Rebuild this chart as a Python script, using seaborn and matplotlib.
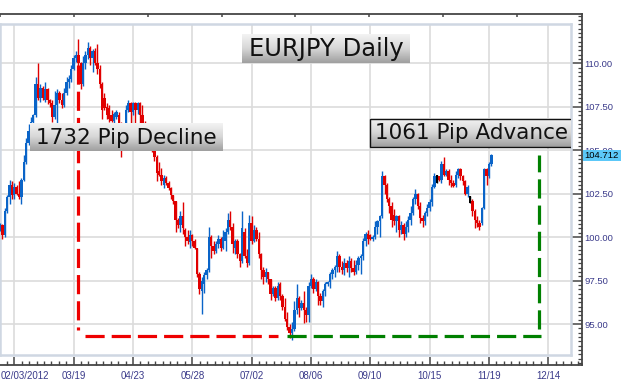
import numpy as np
import pandas as pd
import matplotlib
matplotlib.use("Agg")
import matplotlib.pyplot as plt
import seaborn as sns
from matplotlib.patches import Rectangle
from matplotlib.colors import LinearSegmentedColormap
from matplotlib.ticker import FixedLocator, MultipleLocator
from matplotlib.transforms import ScaledTranslation, blended_transform_factory

# ---------------- data (EURJPY daily candles) ----------------
opens = [
    100.4, 100.7, 100.1, 101.5, 102.3, 103.0, 102.4, 102.9, 102.5, 102.3,
    103.3, 104.3, 105.4, 106.1, 106.6, 107.0, 108.8, 108.0, 108.6, 107.9,
    108.5, 107.9, 107.7, 106.9, 107.6, 108.3, 107.9, 107.6, 108.3, 108.9,
    109.1, 109.7, 110.3, 110.5, 110.0, 108.8, 110.0, 110.5, 110.9, 110.3,
    110.7, 110.0, 109.7, 108.8, 108.0, 107.5, 107.4, 107.0, 106.7, 106.9,
    107.0, 106.0, 105.2, 106.3, 107.3, 107.7, 107.2, 107.7, 107.3, 107.7,
    107.0, 106.5, 106.0, 105.6, 105.9, 105.0, 104.6, 103.8, 103.6, 103.0,
    103.4, 103.1, 102.8, 102.4, 102.1, 101.0, 100.7, 101.2, 100.4, 100.0,
    99.7, 100.1, 99.8, 99.35, 97.9, 96.9, 97.3, 97.8, 98.1, 100.0,
    99.5, 99.2, 99.6, 99.9, 99.4, 99.8, 100.3, 101.0, 100.6, 99.4,
    99.8, 99.0, 98.6, 100.3, 98.9, 98.5, 100.8, 99.8, 100.4, 99.9,
    99.0, 98.1, 97.7, 98.0, 97.6, 96.7, 97.1, 96.5, 97.3, 96.6,
    96.0, 95.3, 94.8, 94.5, 94.7, 95.8, 96.5, 95.9, 96.2, 95.8,
    95.5, 97.2, 97.6, 97.0, 97.4, 96.6, 96.3, 96.9, 97.3, 97.4,
    97.9, 98.1, 98.3, 98.9, 98.3, 98.1, 98.5, 98.2, 98.6, 98.2,
    98.0, 98.4, 98.8, 98.9, 99.8, 100.2, 100.1, 99.9, 100.0, 100.6,
    100.9, 101.2, 103.5, 103.0, 102.2, 101.8, 101.3, 100.9, 101.2, 100.4,
    100.7, 100.2, 100.6, 101.0, 101.4, 102.2, 102.5, 101.8, 101.1, 100.9,
    101.4, 101.7, 102.0, 102.9, 103.5, 103.5, 103.3, 104.2, 103.6, 103.8,
    103.3, 103.1, 103.0, 103.6, 103.9, 103.5, 103.2, 102.5, 102.1, 102.1,
    101.5, 101.0, 100.8, 100.8, 101.7, 103.9, 103.5, 104.2]
highs = [
    100.8, 100.75, 101.7, 102.4, 103.3, 103.2, 103.1, 103.0, 103.2, 103.4,
    104.7, 105.7, 106.5, 106.9, 107.1, 109.2, 110.0, 108.8, 108.7, 108.9,
    108.6, 107.95, 107.9, 108.4, 108.5, 108.4, 108.3, 108.6, 109.2, 109.3,
    109.9, 110.5, 110.7, 111.4, 110.1, 110.4, 110.7, 111.2, 111.0, 110.8,
    110.9, 111.1, 109.9, 108.9, 108.3, 107.7, 107.6, 107.3, 107.2, 107.3,
    107.2, 106.6, 106.5, 107.6, 107.9, 107.8, 107.8, 107.75, 107.8, 107.75,
    107.6, 106.7, 106.2, 106.1, 106.0, 105.0, 104.7, 104.3, 104.0, 103.6,
    103.5, 103.2, 102.9, 102.45, 102.1, 101.1, 101.5, 102.0, 100.5, 100.4,
    100.4, 100.2, 99.9, 99.4, 98.0, 97.7, 98.0, 98.2, 100.6, 100.1,
    99.8, 99.8, 100.1, 100.0, 100.4, 100.5, 101.4, 101.5, 100.8, 99.9,
    99.9, 99.1, 101.5, 100.5, 99.3, 101.3, 101.2, 100.7, 100.6, 100.3,
    99.1, 98.3, 98.2, 98.0, 97.6, 97.2, 97.2, 97.4, 97.4, 96.7,
    96.5, 95.7, 95.0, 95.1, 96.3, 97.3, 96.6, 96.4, 96.9, 96.0,
    97.4, 97.85, 97.7, 97.6, 97.5, 96.8, 97.0, 97.4, 97.5, 98.0,
    98.2, 98.4, 99.2, 99.0, 98.6, 98.8, 98.7, 98.9, 98.8, 98.7,
    98.7, 98.9, 99.0, 99.95, 100.3, 100.4, 100.2, 100.1, 100.9, 101.0,
    101.3, 103.8, 103.6, 103.1, 102.3, 102.0, 101.6, 101.3, 101.3, 100.9,
    100.8, 100.9, 101.2, 101.8, 102.3, 102.75, 102.55, 102.0, 101.3, 101.5,
    101.9, 102.2, 103.05, 103.7, 103.6, 103.5, 104.4, 104.6, 103.9, 103.9,
    103.6, 103.3, 103.8, 104.0, 104.0, 103.6, 103.3, 103.0, 102.35, 102.2,
    101.6, 101.2, 101.0, 101.75, 104.0, 104.0, 104.3, 104.8]
lows = [
    100.35, 99.9, 100.0, 101.4, 101.9, 102.2, 102.2, 102.4, 102.2, 101.9,
    103.2, 104.2, 105.3, 105.9, 106.5, 106.9, 107.9, 107.8, 107.9, 107.8,
    107.65, 107.5, 106.6, 106.8, 106.5, 107.7, 107.4, 107.5, 108.2, 108.6,
    108.9, 109.6, 110.1, 109.8, 108.5, 108.7, 109.7, 110.25, 109.9, 109.5,
    109.9, 109.4, 108.6, 106.8, 107.3, 106.8, 106.6, 106.6, 106.5, 106.8,
    105.6, 104.6, 105.0, 106.2, 107.2, 106.4, 107.0, 106.5, 107.1, 106.4,
    106.2, 105.8, 105.3, 105.4, 104.9, 104.4, 103.2, 103.5, 103.0, 102.8,
    103.0, 102.7, 102.2, 101.9, 100.3, 100.5, 100.3, 100.2, 99.5, 99.6,
    99.4, 99.5, 99.3, 97.7, 96.7, 95.6, 96.8, 97.6, 98.0, 98.8,
    99.0, 99.1, 99.4, 99.2, 99.3, 99.2, 100.2, 100.4, 99.1, 99.0,
    98.8, 98.3, 98.5, 98.8, 98.3, 98.4, 99.6, 99.7, 99.8, 98.8,
    97.6, 97.3, 97.4, 97.3, 96.4, 96.6, 96.3, 96.4, 96.4, 95.8,
    95.2, 94.65, 94.2, 94.1, 94.6, 95.6, 95.4, 95.8, 95.05, 95.1,
    95.1, 97.05, 96.8, 96.9, 96.1, 96.1, 96.0, 96.6, 97.2, 97.1,
    97.6, 97.7, 98.0, 98.0, 97.9, 97.8, 98.0, 97.7, 98.0, 97.8,
    97.9, 98.1, 97.9, 98.7, 99.5, 99.6, 99.85, 99.8, 99.9, 100.2,
    100.0, 101.1, 102.5, 102.0, 101.4, 100.6, 100.7, 100.3, 100.0, 100.2,
    99.85, 100.0, 100.3, 100.7, 101.3, 101.9, 101.6, 100.8, 100.6, 100.7,
    101.2, 101.5, 101.8, 102.8, 103.1, 103.2, 103.1, 103.5, 103.5, 103.0,
    102.9, 102.9, 102.9, 103.4, 103.3, 103.0, 102.4, 102.3, 101.97, 101.2,
    100.5, 100.6, 100.4, 100.7, 101.6, 103.0, 103.4, 104.1]
closes = [
    100.7, 100.1, 101.5, 102.3, 103.0, 102.4, 102.9, 102.5, 102.3, 103.3,
    104.3, 105.4, 106.1, 106.6, 107.0, 108.8, 108.0, 108.6, 108.0, 108.5,
    107.9, 107.7, 106.9, 107.6, 108.3, 107.9, 107.6, 108.3, 108.9, 109.1,
    109.7, 110.3, 110.5, 110.0, 108.8, 110.0, 110.5, 110.9, 110.3, 110.7,
    110.0, 109.7, 108.8, 107.3, 107.4, 107.0, 106.8, 106.7, 107.1, 107.2,
    106.0, 105.2, 106.3, 107.3, 107.7, 107.2, 107.7, 107.3, 107.7, 107.0,
    106.5, 106.0, 105.6, 105.9, 105.0, 104.6, 103.7, 103.6, 103.2, 103.4,
    103.1, 102.8, 102.4, 102.1, 101.0, 100.7, 101.2, 100.5, 100.0, 99.8,
    100.1, 99.8, 99.4, 97.9, 97.0, 97.5, 97.8, 98.1, 100.0, 99.5,
    99.2, 99.6, 99.9, 99.4, 100.0, 100.3, 101.0, 100.6, 99.6, 99.8,
    99.0, 98.6, 100.5, 98.9, 98.5, 100.8, 99.8, 100.4, 99.9, 99.0,
    98.1, 97.7, 98.0, 97.6, 96.7, 97.1, 96.5, 97.2, 96.6, 96.0,
    95.3, 94.8, 94.5, 94.7, 95.8, 96.5, 95.9, 96.2, 95.8, 95.5,
    97.2, 97.6, 97.0, 97.4, 96.6, 96.3, 96.9, 97.3, 97.4, 97.9,
    98.1, 98.3, 98.9, 98.3, 98.1, 98.5, 98.2, 98.6, 98.2, 98.0,
    98.4, 98.8, 98.9, 99.8, 100.2, 99.9, 99.9, 100.0, 100.6, 100.9,
    101.2, 103.5, 103.0, 102.2, 101.8, 101.0, 100.9, 101.2, 100.4, 100.7,
    100.2, 100.6, 101.0, 101.4, 102.2, 102.5, 101.8, 101.1, 100.9, 101.4,
    101.7, 102.0, 102.9, 103.5, 103.5, 103.3, 104.2, 103.6, 103.8, 103.3,
    103.1, 102.95, 103.6, 103.9, 103.5, 103.2, 102.5, 102.9, 102.1, 101.5,
    101.0, 100.8, 100.6, 101.7, 103.9, 103.5, 104.2, 104.712]

date_labels = ["02/03/2012", "03/19", "04/23", "05/28", "07/02",
               "08/06", "09/10", "10/15", "11/19", "12/14"]
date_tick_idx = [6, 31, 56, 81, 106, 131, 156, 181, 206, 231]
price_ticks = [95.0, 97.5, 100.0, 102.5, 105.0, 107.5, 110.0]
last_price = 104.712
title_text = "EURJPY Daily"
decline_text = "1732 Pip Decline"
advance_text = "1061 Pip Advance"
decline_top = 109.9        # start of red dashed leg
base_level = 94.31         # level of horizontal legs
advance_x = 227.1          # candle-index position of green vertical leg

# ---------------- layout helpers ----------------
W, H = 625, 384
PX_PER_BAR = 2.3733
X0 = -0.025
PX_PER_UNIT = 17.38
REF_PRICE, REF_PY = 110.0, 63.3


def bx(px):
    return X0 + px / PX_PER_BAR


def by(py):
    return REF_PRICE - (py - REF_PY) / PX_PER_UNIT


sns.set_style("white")
plt.rcParams["font.family"] = ["Liberation Sans", "DejaVu Sans"]

fig = plt.figure(figsize=(W / 100, H / 100), dpi=100)
fig.patch.set_facecolor("white")

# outer frame (axis lines, ticks, labels): px 0..582, py 14..365
frame = fig.add_axes([0, 1 - 365 / H, 582 / W, (365 - 14) / H])
# inner panel (candles): px 0..571, py 24..355
panel = fig.add_axes([0, 1 - 355 / H, 571 / W, (355 - 24) / H])
top_tw = frame.twiny()

frame.set_xlim(bx(0), bx(582))
frame.set_ylim(by(365), by(14))
panel.set_xlim(bx(0), bx(571))
panel.set_ylim(by(355), by(24))

axis_col = "#454545"
lab_col = "#3a3a8a"
for s in ["top", "right", "bottom"]:
    frame.spines[s].set_color(axis_col)
    frame.spines[s].set_linewidth(1.3)
frame.spines["left"].set_visible(False)
frame.set_facecolor("white")

# bottom date axis
frame.xaxis.set_ticks_position("bottom")
frame.set_xticks(date_tick_idx, labels=date_labels)
minor_x = []
for a, b in zip(date_tick_idx[:-1], date_tick_idx[1:]):
    minor_x += list(np.linspace(a, b, 9)[1:-1])
minor_x += list(np.linspace(date_tick_idx[0] - 25, date_tick_idx[0], 9)[1:-1])
minor_x += list(np.linspace(date_tick_idx[-1], date_tick_idx[-1] + 25, 9)[1:-1])
frame.xaxis.set_minor_locator(FixedLocator(minor_x))
frame.tick_params(axis="x", which="major", direction="in", length=6, width=1.1,
                  color=axis_col, labelsize=7, labelcolor=lab_col, pad=4)
frame.tick_params(axis="x", which="minor", direction="in", length=3, width=1.0,
                  color=axis_col)
first = frame.get_xticklabels()[0]
first.set_horizontalalignment("left")
first.set_transform(first.get_transform() +
                    ScaledTranslation(-13.8 / 100, 0, fig.dpi_scale_trans))

# right price axis
frame.yaxis.tick_right()
frame.set_yticks(price_ticks, labels=[f"{v:.2f}" for v in price_ticks])
frame.yaxis.set_minor_locator(MultipleLocator(0.25))
frame.tick_params(axis="y", which="major", direction="in", length=8.5, width=1.1,
                  color=axis_col, labelsize=6.8, labelcolor=lab_col, pad=2)
frame.tick_params(axis="y", which="minor", direction="in", length=3, width=0.9,
                  color=axis_col)

# decorative top ticks
top_tw.set_xlim(0, 582)
top_tw.set_xticks([0, 74, 148, 222, 295, 369, 443, 517])
top_tw.tick_params(axis="x", direction="in", length=2.5, width=1.1, color=axis_col,
                   labeltop=False, top=True, bottom=False, labelbottom=False)
for s in top_tw.spines.values():
    s.set_visible(False)

# panel styling / grid
panel.set_facecolor("white")
for s in panel.spines.values():
    s.set_color("#cfd7e2")
    s.set_linewidth(1.8)
panel.set_xticks(date_tick_idx)
panel.set_yticks(price_ticks)
panel.tick_params(length=0, labelbottom=False, labelleft=False)
panel.grid(True, color="#dcdcdc", linewidth=1.2)
panel.set_axisbelow(True)

# ---------------- candles ----------------
df = pd.DataFrame({"o": opens, "h": highs, "l": lows, "c": closes})
df["i"] = np.arange(len(df))
up_col, dn_col = "#0a64c8", "#e00000"
df["col"] = np.where(df.c > df.o, up_col, np.where(df.c < df.o, dn_col, "#000000"))
flat = df.c == df.o
df["bot"] = np.where(flat, df.l, np.minimum(df.o, df.c))
df["hgt"] = np.where(flat, df.h - df.l, (df.c - df.o).abs())
panel.vlines(df.i, df.l, df.h, colors=df.col, linewidth=1.0, zorder=3)
panel.bar(df.i, df.hgt, bottom=df.bot, width=1.0, color=df.col, linewidth=0, zorder=3)

# ---------------- dashed legs ----------------
dash = (0, (6, 2.2))
lw = 2.3
panel.plot([33, 33], [decline_top, by(330)], color="#ee0000", lw=lw, ls=dash,
           dash_capstyle="butt", zorder=4)
panel.plot([bx(85), bx(278)], [base_level, base_level], color="#ee0000", lw=lw, ls=dash,
           dash_capstyle="butt", zorder=4)
panel.plot([bx(287), bx(541)], [base_level, base_level], color="#008000", lw=lw, ls=dash,
           dash_capstyle="butt", zorder=4)
panel.plot([advance_x, advance_x], [by(329), last_price], color="#008000", lw=lw,
           ls=dash, dash_capstyle="butt", zorder=4)

# ---------------- gradient label boxes ----------------
grad = np.linspace(0, 1, 64).reshape(-1, 1)
gcmap = LinearSegmentedColormap.from_list("g", ["#f3f3f3", "#d6d6d6", "#9f9f9f"])


def label_box(px0, px1, py0, py1, text, size, text_cx, border=False):
    panel.imshow(grad, cmap=gcmap, aspect="auto", origin="upper",
                 extent=(bx(px0), bx(px1), by(py1), by(py0)), zorder=5,
                 interpolation="bilinear")
    if border:
        panel.add_patch(Rectangle((bx(px0), by(py1)), bx(px1) - bx(px0), by(py0) - by(py1),
                                  fill=False, ec="#111111", lw=1.0, zorder=6))
    panel.text(bx(text_cx), (by(py0) + by(py1)) / 2, text, ha="center", va="center",
               fontsize=size, family="DejaVu Sans", color="#111111", zorder=7)


label_box(242, 410, 34, 63, title_text, 17.5, 326)
label_box(30, 223, 124, 151, decline_text, 15.5, 126.5)
label_box(370, 576, 119, 147, advance_text, 15.5, 471.5, border=True)

panel.set_xlim(bx(0), bx(571))
panel.set_ylim(by(355), by(24))

# ---------------- last price tag ----------------
tr = blended_transform_factory(fig.transFigure, frame.transData)
tag_h = 11 / PX_PER_UNIT
fig.add_artist(Rectangle((582.5 / W, last_price - tag_h / 2), 38.5 / W, tag_h,
                         transform=tr, fc="#5cc8f8", ec="none", zorder=10))
fig.text(584 / W, last_price, f"{last_price:.3f}", transform=tr, ha="left", va="center",
         fontsize=6.8, color="#000000", zorder=11)

fig.savefig("out.png", dpi=100, facecolor="white")
